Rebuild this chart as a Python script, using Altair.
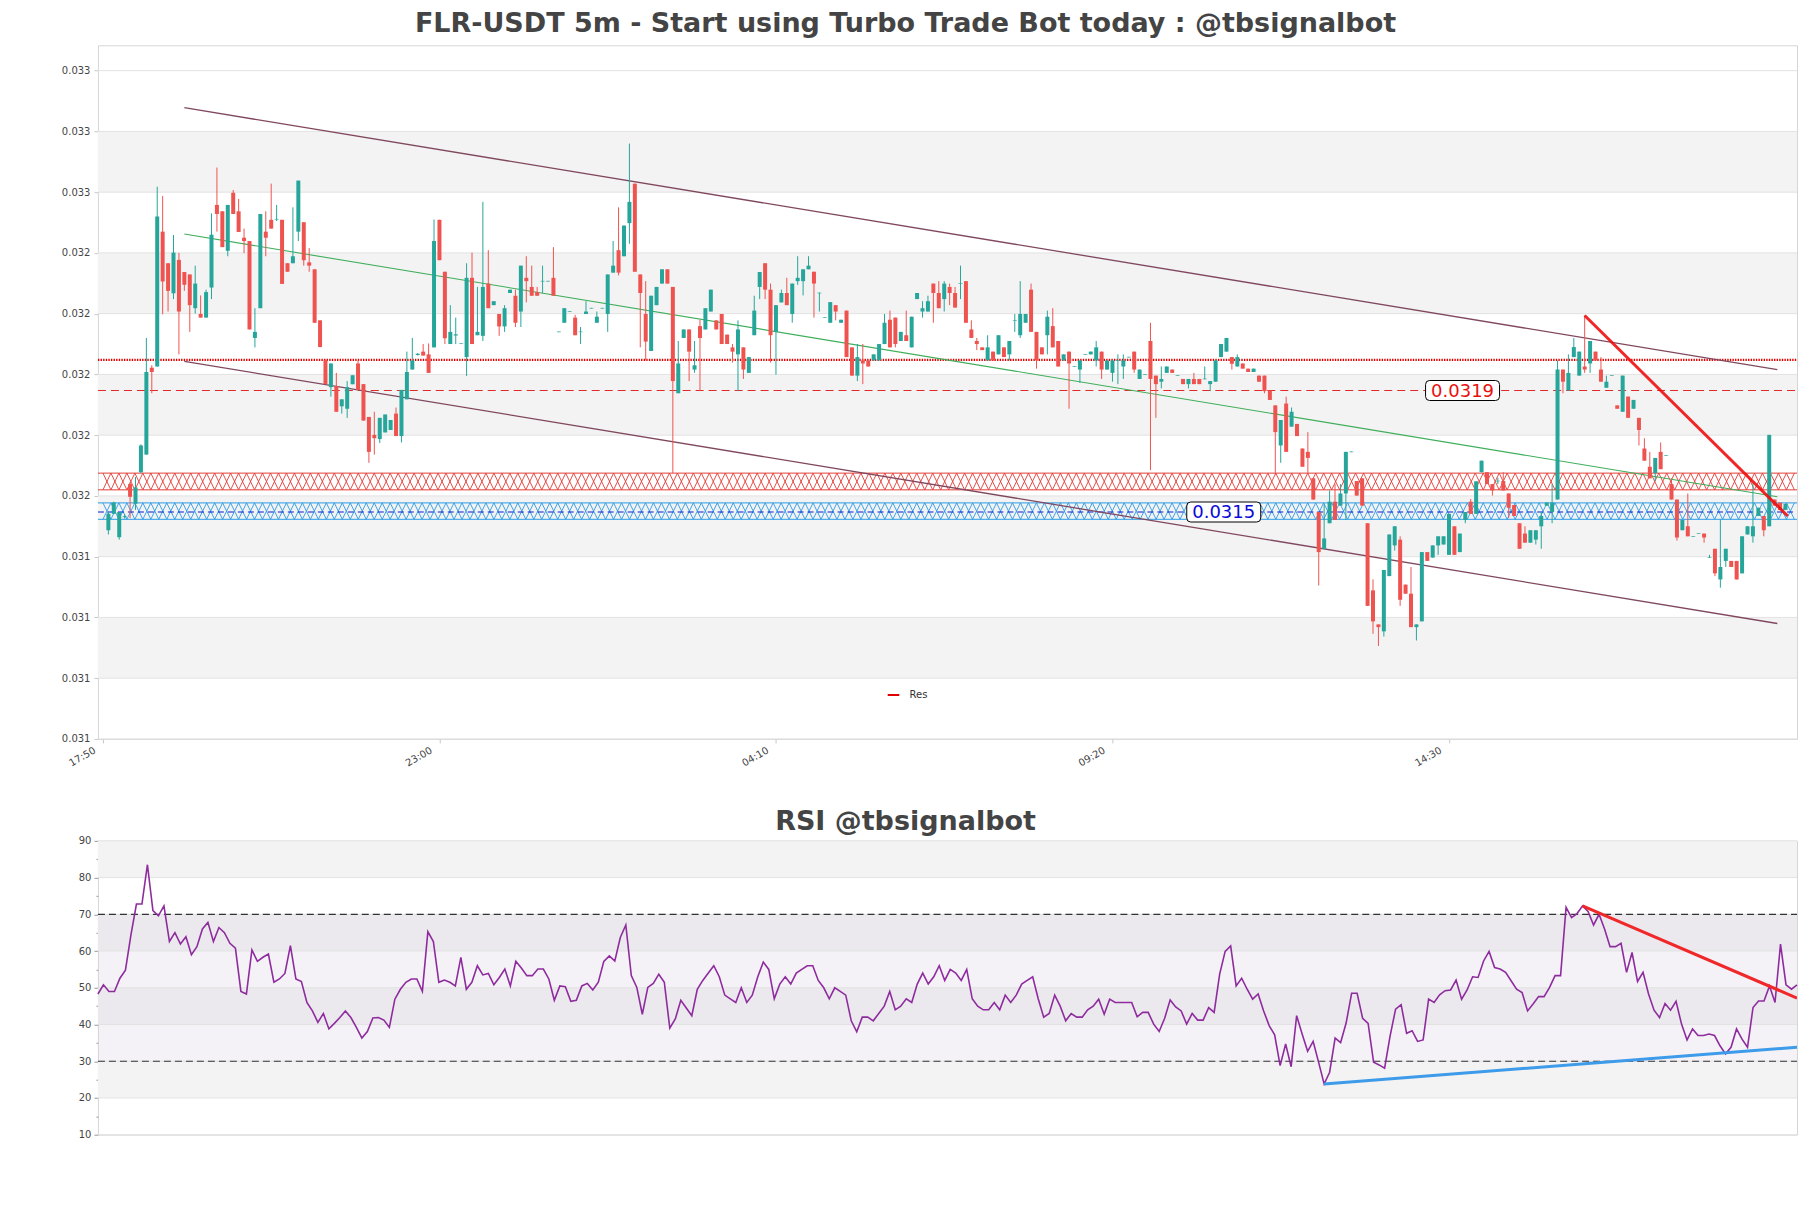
import json
import altair as alt
import numpy as np
import pandas as pd

FONT = "DejaVu Sans"
TITLE = "FLR-USDT 5m - Start using Turbo Trade Bot today : @tbsignalbot"
RSI_TITLE = "RSI @tbsignalbot"

# ---------------- candle data (prices in units of 1e-5 USDT) ----------------
PRICE_UNIT = 1e-5
opens = [
 3148.7,3154.1,3146.4,3153.0,3163.9,3157.4,3167.8,3173.6,3202.2,3202.6,
 3247.0,3236.6,3226.7,3237.7,3233.7,3232.9,3221.8,3219.9,3218.7,3228.6,
 3255.8,3253.7,3240.7,3259.8,3253.7,3245.0,3243.9,3212.0,3221.8,3247.0,
 3250.9,3251.0,3250.9,3236.6,3236.6,3247.0,3250.1,3236.9,3234.6,3217.8,
 3204.8,3195.8,3196.2,3189.5,3188.7,3196.8,3203.6,3196.8,3186.0,3180.1,
 3178.7,3180.9,3181.7,3187.1,3179.7,3191.8,3201.6,3206.4,3207.5,3206.6,
 3208.9,3250.9,3233.8,3210.0,3212.8,3210.0,3205.7,3231.8,3212.9,3212.7,
 3229.9,3222.8,3219.9,3215.8,3226.8,3225.9,3220.7,3231.8,3228.8,3227.1,
 3230.6,3230.6,3231.8,3213.9,3217.0,3220.6,3218.7,3213.9,3219.9,3221.7,
 3217.0,3221.7,3219.9,3233.5,3240.9,3238.9,3249.8,3262.8,3232.9,3219.9,
 3207.7,3222.8,3229.9,3234.6,3228.8,3193.8,3212.0,3214.8,3201.6,3215.9,
 3214.8,3220.7,3217.8,3219.9,3213.1,3208.9,3206.6,3208.9,3200.5,3212.9,
 3228.8,3236.6,3227.9,3214.0,3223.7,3226.8,3219.9,3230.7,3230.7,3234.6,
 3233.8,3226.7,3218.6,3217.0,3222.8,3217.0,3221.0,3208.9,3199.6,3204.6,
 3204.6,3204.6,3204.6,3210.0,3218.0,3218.7,3211.0,3212.9,3208.9,3224.8,
 3220.7,3220.7,3229.9,3226.8,3224.8,3228.8,3226.8,3229.8,3230.7,3214.8,
 3211.0,3208.9,3204.6,3207.5,3206.6,3208.9,3206.6,3217.7,3212.9,3217.0,
 3227.9,3214.0,3208.9,3212.9,3215.9,3211.0,3204.6,3207.5,3202.5,3201.6,
 3206.5,3206.6,3204.6,3207.5,3201.6,3200.5,3204.5,3202.6,3205.6,3207.5,
 3198.5,3199.9,3211.0,3199.6,3197.6,3200.5,3201.6,3199.5,3198.5,3196.8,
 3198.5,3198.5,3198.4,3196.8,3197.6,3205.7,3207.5,3205.7,3202.6,3203.6,
 3201.9,3200.8,3199.6,3199.6,3194.7,3189.8,3176.6,3190.4,3182.8,3183.7,
 3175.6,3174.5,3165.8,3154.7,3142.6,3151.0,3158.1,3156.8,3160.8,3174.4,
 3164.9,3165.8,3151.0,3128.9,3117.7,3115.4,3133.6,3143.7,3145.6,3130.8,
 3127.8,3116.8,3118.7,3141.5,3139.7,3143.7,3144.0,3140.6,3150.0,3141.5,
 3152.1,3158.1,3154.1,3167.8,3167.8,3163.9,3164.8,3164.9,3160.8,3157.0,
 3151.0,3147.6,3144.6,3145.6,3150.0,3156.8,3154.7,3158.8,3201.6,3194.7,
 3205.7,3199.6,3202.6,3203.6,3207.5,3201.6,3195.6,3199.5,3189.8,3187.7,
 3192.7,3188.7,3185.7,3175.6,3169.6,3167.5,3174.5,3173.2,3163.9,3158.8,
 3148.7,3150.0,3146.6,3147.5,3147.6,3139.6,3142.6,3132.5,3138.6,3138.6,
 3138.6,3134.5,3147.3,3146.7,3153.4,3153.4,3150.0,3158.8,3157.8,3155.4,
]
closes = [
 3154.1,3157.8,3154.7,3153.3,3159.7,3162.8,3176.6,3200.8,3200.8,3252.0,
 3230.6,3227.5,3240.1,3220.7,3229.5,3222.8,3229.9,3218.7,3227.1,3246.0,
 3252.8,3241.9,3255.8,3252.8,3246.9,3243.9,3214.8,3214.0,3252.8,3245.0,
 3248.0,3251.2,3229.8,3233.8,3238.9,3263.8,3237.6,3235.8,3217.0,3209.0,
 3196.8,3203.6,3187.7,3191.8,3195.8,3199.7,3194.9,3184.8,3174.5,3179.0,
 3185.7,3186.8,3185.0,3179.7,3194.9,3200.8,3204.6,3206.8,3206.2,3200.5,
 3243.9,3237.6,3211.9,3214.0,3213.2,3210.2,3231.8,3210.0,3214.0,3228.8,
 3221.8,3224.1,3215.8,3221.8,3227.9,3217.0,3235.8,3230.7,3225.9,3225.9,
 3230.8,3230.8,3225.9,3214.1,3221.8,3220.8,3212.9,3214.1,3220.7,3221.9,
 3219.0,3221.9,3232.9,3235.8,3233.5,3249.0,3256.8,3233.8,3226.8,3210.8,
 3225.9,3228.8,3234.6,3229.9,3197.8,3203.6,3214.8,3207.5,3203.0,3212.0,
 3221.8,3227.9,3214.8,3210.0,3210.0,3207.5,3214.8,3201.6,3205.7,3221.0,
 3233.7,3227.9,3212.9,3222.8,3226.8,3222.8,3229.9,3231.8,3234.6,3235.8,
 3229.9,3226.9,3218.8,3223.8,3220.7,3218.0,3205.7,3199.6,3205.7,3203.6,
 3202.6,3206.6,3210.0,3217.0,3208.9,3210.0,3214.0,3211.0,3219.0,3226.8,
 3221.8,3224.1,3226.8,3221.8,3229.9,3226.8,3222.0,3230.0,3217.0,3212.0,
 3210.0,3208.0,3208.9,3204.6,3212.9,3205.7,3211.0,3217.9,3219.9,3219.9,
 3214.0,3204.6,3206.6,3219.0,3208.9,3202.6,3206.6,3203.6,3202.7,3204.6,
 3206.7,3207.5,3208.9,3201.6,3204.6,3204.6,3204.7,3204.6,3205.8,3201.6,
 3201.6,3200.1,3198.5,3196.8,3198.5,3202.6,3200.5,3199.7,3196.8,3198.5,
 3196.8,3196.8,3198.6,3197.8,3204.6,3210.0,3212.0,3203.5,3205.7,3201.9,
 3200.8,3201.9,3197.6,3194.5,3191.6,3181.0,3185.0,3174.5,3187.7,3179.7,
 3169.6,3172.5,3158.8,3141.5,3146.0,3158.1,3152.1,3160.8,3174.5,3174.6,
 3160.1,3156.8,3123.8,3118.7,3116.8,3135.6,3147.3,3150.0,3125.8,3127.8,
 3116.8,3117.7,3141.5,3138.6,3143.7,3146.7,3146.7,3154.1,3140.6,3147.6,
 3154.7,3154.1,3164.8,3171.6,3163.9,3161.8,3165.0,3161.8,3156.1,3153.4,
 3142.6,3144.6,3148.7,3148.7,3153.4,3157.8,3157.8,3201.6,3197.6,3200.5,
 3209.0,3207.5,3201.6,3211.0,3204.6,3197.6,3197.6,3199.7,3188.7,3199.6,
 3185.7,3191.6,3181.7,3171.6,3165.8,3172.5,3168.8,3173.4,3158.8,3146.3,
 3152.1,3146.7,3146.8,3147.7,3146.3,3139.8,3134.5,3136.6,3142.6,3136.6,
 3132.5,3146.7,3150.0,3150.0,3156.1,3148.7,3180.1,3156.8,3155.4,3157.4,
]
highs = [
 3154.8,3158.1,3154.7,3154.0,3164.5,3166.2,3177.0,3212.0,3203.0,3261.8,
 3258.7,3236.6,3245.9,3240.0,3233.7,3232.9,3235.8,3226.0,3227.9,3253.0,
 3268.1,3253.7,3255.8,3260.7,3257.8,3248.0,3243.9,3221.8,3252.8,3253.7,
 3262.8,3255.8,3250.9,3236.6,3255.0,3263.8,3250.1,3241.6,3234.6,3217.8,
 3204.8,3203.6,3200.5,3191.8,3197.8,3199.7,3204.6,3196.8,3186.0,3187.7,
 3185.7,3186.8,3185.0,3189.1,3194.9,3207.5,3212.0,3207.0,3210.0,3210.2,
 3251.0,3250.9,3233.8,3222.8,3218.7,3210.2,3236.6,3240.1,3228.8,3256.8,
 3240.9,3224.1,3219.9,3222.8,3227.9,3227.9,3235.8,3238.9,3235.8,3228.8,
 3235.8,3230.8,3241.9,3214.1,3221.8,3220.8,3219.6,3215.6,3224.1,3221.9,
 3220.7,3221.9,3232.9,3243.9,3255.0,3249.0,3276.0,3262.8,3232.9,3230.7,
 3225.9,3228.8,3234.6,3234.6,3228.8,3211.0,3214.8,3214.8,3211.0,3218.0,
 3221.8,3227.9,3217.8,3219.9,3213.1,3210.0,3217.8,3208.9,3205.7,3225.9,
 3233.7,3236.6,3229.9,3222.8,3227.9,3231.8,3229.9,3238.9,3234.6,3238.9,
 3233.8,3226.9,3218.8,3223.8,3222.8,3218.0,3221.0,3208.9,3210.0,3210.0,
 3204.6,3206.6,3210.0,3219.9,3221.0,3218.7,3214.0,3221.0,3219.0,3226.8,
 3224.1,3225.9,3229.9,3230.7,3230.7,3229.9,3228.8,3235.8,3230.7,3217.8,
 3212.0,3208.9,3212.9,3207.5,3212.9,3208.9,3211.0,3219.9,3230.7,3219.9,
 3229.9,3214.0,3208.9,3221.0,3221.8,3211.0,3206.6,3207.5,3202.7,3204.6,
 3206.7,3207.5,3211.0,3207.5,3204.6,3204.6,3206.6,3206.6,3205.8,3207.5,
 3201.6,3200.1,3217.0,3199.6,3202.6,3202.6,3201.6,3199.7,3198.5,3198.5,
 3200.5,3198.5,3202.6,3197.8,3204.6,3210.0,3212.0,3205.7,3206.6,3203.6,
 3201.9,3201.9,3199.6,3199.6,3194.7,3189.8,3185.0,3192.7,3189.1,3183.7,
 3175.6,3181.0,3165.8,3154.7,3157.4,3161.8,3163.9,3163.9,3174.5,3174.6,
 3164.9,3165.8,3151.0,3132.5,3117.7,3135.6,3147.3,3150.0,3146.7,3130.8,
 3136.6,3117.7,3141.5,3141.5,3143.7,3146.7,3146.7,3154.1,3150.0,3147.6,
 3154.7,3159.0,3164.8,3171.6,3167.8,3163.9,3166.0,3167.8,3160.8,3157.0,
 3151.0,3150.0,3148.7,3148.7,3154.7,3157.8,3163.9,3204.6,3201.6,3206.6,
 3212.0,3207.5,3219.4,3211.0,3207.5,3205.7,3199.6,3199.7,3189.8,3199.6,
 3192.7,3191.6,3185.7,3179.0,3174.5,3172.5,3177.6,3173.4,3165.8,3158.8,
 3152.1,3160.8,3146.8,3147.7,3147.6,3140.6,3142.6,3152.3,3142.6,3138.6,
 3138.6,3146.7,3150.0,3164.2,3156.1,3153.4,3180.1,3158.8,3157.8,3157.4,
]
lows = [
 3147.3,3154.1,3145.6,3152.5,3152.7,3155.4,3167.5,3173.6,3193.8,3202.6,
 3219.8,3220.7,3224.8,3206.6,3227.5,3214.0,3220.0,3218.7,3218.7,3224.8,
 3247.0,3241.9,3238.9,3252.8,3246.9,3239.9,3214.8,3208.9,3221.8,3238.9,
 3248.0,3250.5,3229.8,3233.8,3236.6,3243.9,3235.8,3233.8,3217.0,3209.0,
 3196.8,3192.7,3187.7,3187.1,3185.7,3196.8,3194.9,3184.8,3170.9,3173.6,
 3177.4,3180.9,3181.7,3179.7,3177.6,3191.8,3201.6,3206.2,3206.2,3200.5,
 3208.9,3237.6,3210.0,3210.0,3210.0,3210.0,3199.5,3210.0,3212.9,3211.0,
 3221.8,3222.8,3212.7,3214.0,3226.8,3215.6,3215.6,3223.7,3225.9,3225.9,
 3226.8,3230.6,3225.9,3213.9,3217.0,3220.6,3212.9,3210.0,3219.9,3221.7,
 3217.0,3221.7,3214.0,3233.5,3232.6,3238.9,3243.0,3233.8,3208.9,3204.6,
 3207.7,3222.8,3229.9,3229.9,3167.5,3193.8,3212.0,3197.8,3200.5,3194.5,
 3214.8,3220.7,3214.8,3210.0,3210.0,3203.9,3194.5,3198.5,3200.5,3212.9,
 3224.8,3224.8,3203.9,3199.9,3223.7,3222.8,3217.0,3229.5,3226.0,3234.6,
 3218.7,3220.7,3218.6,3217.0,3217.8,3217.0,3205.7,3199.6,3197.8,3196.8,
 3202.6,3204.6,3204.6,3210.0,3208.9,3208.9,3211.0,3211.0,3208.9,3224.8,
 3218.7,3220.7,3217.0,3221.8,3220.7,3222.8,3222.0,3224.8,3217.0,3212.0,
 3208.0,3208.0,3204.6,3204.6,3206.6,3205.7,3204.6,3214.0,3212.0,3217.0,
 3214.0,3201.9,3206.6,3206.6,3208.9,3202.6,3204.6,3188.7,3202.5,3197.2,
 3206.5,3206.6,3202.6,3198.5,3201.6,3197.6,3196.8,3198.5,3205.6,3200.5,
 3198.5,3199.9,3168.5,3185.7,3195.4,3200.5,3200.5,3199.5,3196.8,3195.4,
 3196.8,3196.8,3198.4,3194.5,3197.6,3205.7,3207.5,3201.6,3202.6,3201.9,
 3200.8,3200.8,3197.6,3193.8,3191.6,3166.9,3170.9,3174.5,3182.8,3179.7,
 3169.6,3167.5,3158.8,3130.5,3142.6,3151.0,3152.1,3156.8,3152.1,3174.4,
 3160.1,3156.8,3123.8,3114.6,3110.6,3113.7,3133.6,3142.0,3123.8,3127.8,
 3116.8,3112.4,3118.7,3138.6,3139.7,3140.6,3144.0,3140.6,3140.6,3141.5,
 3151.0,3154.1,3154.1,3167.8,3163.9,3160.1,3163.9,3161.8,3152.7,3153.4,
 3142.6,3144.6,3144.6,3144.0,3142.6,3156.8,3151.0,3158.8,3193.8,3194.7,
 3205.7,3199.6,3200.5,3200.5,3204.6,3197.6,3195.6,3199.5,3188.7,3187.7,
 3185.7,3188.7,3176.6,3171.6,3165.8,3164.9,3168.8,3173.2,3158.8,3145.3,
 3148.7,3146.7,3146.6,3147.5,3144.6,3139.6,3133.6,3129.8,3136.6,3136.6,
 3132.5,3134.5,3147.3,3144.6,3153.4,3146.7,3150.0,3156.8,3155.4,3155.4,
]

# RSI values, one per candle (same order)
rsi = [
 48.3,50.8,49.0,49.0,52.6,54.8,64.4,72.8,72.8,83.5,
 71.0,69.6,72.3,62.6,65.0,61.9,63.9,59.0,61.2,66.0,
 67.8,62.6,66.4,65.0,62.1,60.8,49.0,48.3,60.3,57.2,
 58.3,59.2,51.5,52.4,53.9,61.5,52.4,51.7,46.0,43.7,
 40.6,43.0,38.8,40.3,41.9,43.7,41.9,39.2,36.3,38.1,
 41.8,41.9,41.2,39.2,46.9,49.6,51.5,52.4,52.4,49.0,
 65.3,62.6,51.5,52.1,51.5,50.5,58.3,49.6,51.5,56.0,
 53.5,53.9,50.8,52.8,55.1,50.5,57.2,55.4,53.3,53.3,
 55.1,55.1,52.4,46.6,50.5,50.3,46.3,46.6,50.5,51.2,
 49.4,51.5,57.2,58.7,57.3,63.7,67.1,53.3,50.1,42.8,
 50.1,51.2,53.7,51.5,39.0,41.5,46.6,44.5,42.4,49.6,
 52.0,54.0,56.0,53.0,48.0,47.0,46.0,50.0,46.0,48.0,
 53.0,57.0,55.0,47.0,51.0,53.0,51.0,54.0,55.0,56.0,
 56.0,52.0,50.0,47.0,50.0,49.0,48.0,41.0,38.0,42.0,
 42.0,41.0,43.0,45.0,49.0,44.0,45.0,47.0,46.0,51.0,
 54.0,51.0,53.0,56.0,52.0,55.0,54.0,52.0,55.0,47.0,
 45.0,44.0,44.0,46.0,44.0,48.0,46.0,48.0,51.0,52.0,
 53.0,47.0,42.0,43.0,48.0,45.0,41.0,43.0,42.0,42.0,
 44.0,45.0,46.9,42.8,46.9,46.0,46.0,46.0,46.0,42.1,
 43.3,43.3,40.1,38.1,41.7,46.7,44.8,43.7,40.1,43.0,
 41.2,41.2,44.6,43.3,53.7,59.9,61.4,50.5,52.6,49.6,
 46.9,48.3,43.7,39.7,37.2,28.8,34.7,28.5,42.4,37.4,
 32.7,35.4,29.7,23.8,27.0,36.3,35.1,40.4,48.5,48.5,
 41.7,40.3,29.7,29.0,28.1,36.9,44.2,45.4,37.6,38.3,
 35.4,35.8,46.9,46.0,48.1,49.2,49.4,52.1,46.9,49.4,
 53.0,52.8,57.3,59.9,55.5,55.1,54.2,51.9,49.6,48.7,
 43.7,45.6,47.6,47.6,50.1,53.3,53.3,71.9,69.1,70.2,
 72.3,70.8,67.1,70.0,66.0,61.2,61.2,62.1,54.2,59.6,
 51.7,54.2,48.3,43.9,41.9,45.7,43.9,46.3,40.1,35.8,
 38.8,37.0,37.0,37.4,37.0,34.2,32.0,33.8,38.8,36.0,
 33.8,44.6,46.4,46.4,50.5,46.0,61.9,50.8,49.6,50.8,
]

# x positions: candle number counted in 5-minute steps from the 17:50 tick
candle_idx = list(range(1, len(closes) + 1))
tick_idx = [0, 62, 124, 186, 248]
tick_labels = ["17:50", "23:00", "04:10", "09:20", "14:30"]
x_domain_main = [0, 311.2]
x_domain_rsi = [1, 310]

# price axis
y_ticks = [0.0308, 0.0310, 0.0312, 0.0314, 0.0316, 0.0318, 0.0320,
           0.0322, 0.0324, 0.0326, 0.0328, 0.0330]
y_domain = [0.0308, 0.0330835]
shade_lo = [0.0310, 0.0314, 0.0318, 0.0322, 0.0326]
shade_hi = [0.0312, 0.0316, 0.0320, 0.0324, 0.0328]

# levels and zones
res_dotted = 0.032048
res_dashed = 0.031947
sup_dashed = 0.031547
res_zone = (0.031620, 0.031675)
sup_zone = (0.031523, 0.031577)

# channel and trend lines (candle number, price)
chan_x = [15, 308.5]
chan_upper = [0.032878, 0.032016]
chan_lower = [0.032043, 0.031180]
chan_mid = [0.032462, 0.031597]
trend_x = [273, 310.4]
trend_y = [0.032194, 0.031534]

# level labels
lab_x = [250.5, 206.5]
lab_y = [0.031947, 0.031547]
lab_text = ["0.0319", "0.0315"]
lab_color = ["#e8110f", "#0a0ad8"]

# RSI panel
rsi_shade_lo = [80, 60, 40, 20]
rsi_shade_hi = [90, 70, 50, 30]
rsi_grid = [10, 20, 30, 40, 50, 60, 70, 80, 90]
rsi_levels = [30, 70]
rsi_red_x = [271, 310]
rsi_red_v = [72.3, 47.2]
rsi_blue_x = [224, 310]
rsi_blue_v = [23.8, 33.8]

# ---------------- styling ----------------
UP, DOWN = "#26a69a", "#ef5350"
CHAN = "#80485f"
GREEN_LINE = "#3fae5a"
HATCH_RED = "#e23b35"
HATCH_BLUE = "#2a9be6"
SHADE = "#f3f3f3"
GRID = "#e2e2e2"
W1, H1 = 1700, 694
W2, H2 = 1700, 294
TITLE_SIZE = 27

df = pd.DataFrame({
    "i": candle_idx,
    "open": np.array(opens) * PRICE_UNIT,
    "close": np.array(closes) * PRICE_UNIT,
    "high": np.array(highs) * PRICE_UNIT,
    "low": np.array(lows) * PRICE_UNIT,
    "rsi": rsi,
})

label_expr = "%s[indexof(%s, datum.value)]" % (json.dumps(tick_labels), json.dumps(tick_idx))
xscale = alt.Scale(domain=x_domain_main, nice=False, zero=False)
yscale = alt.Scale(domain=y_domain, nice=False, zero=False)
x_axis = alt.Axis(values=tick_idx, labelExpr=label_expr, labelAngle=-30, labelAlign="right",
                  labelBaseline="top", labelOffset=-11, grid=False, domain=False, tickColor="#c8c8c8",
                  tickSize=4, labelFontSize=10, labelColor="#444", labelFont=FONT, labelPadding=2,
                  minExtent=30, maxExtent=30, title=None)
y_axis = alt.Axis(values=y_ticks, format=".3f", grid=False, domain=False, tickColor="#c8c8c8",
                  tickSize=4, labelFontSize=10, labelColor="#444", labelFont=FONT, labelPadding=4,
                  minExtent=40, maxExtent=40, title=None)


def X(field):
    return alt.X(field, type="quantitative", scale=xscale, axis=x_axis)


def Y(field):
    return alt.Y(field, type="quantitative", scale=yscale, axis=y_axis)


shade = alt.Chart(pd.DataFrame({"lo": shade_lo, "hi": shade_hi})).mark_rect(color=SHADE).encode(
    x=alt.value(0), x2=alt.value(W1), y=Y("lo"), y2="hi")
grid = alt.Chart(pd.DataFrame({"v": y_ticks})).mark_rule(color=GRID, strokeWidth=1).encode(
    y=Y("v"), x=alt.value(0), x2=alt.value(W1))

# hatched zones (cross-hatch drawn as two opposite zig-zags between zone edges)
HATCH_HALF = 1.47
hx = np.arange(x_domain_main[0], x_domain_main[1] + HATCH_HALF, HATCH_HALF)


def hatch_layers(zone, color):
    lo, hi = zone
    rows = []
    for phase in (0, 1):
        for j, xv in enumerate(hx):
            rows.append({"x": xv, "y": hi if (j + phase) % 2 == 0 else lo, "line": phase, "ord": j})
    zig = alt.Chart(pd.DataFrame(rows)).mark_line(color=color, strokeWidth=0.9, clip=True).encode(
        x=X("x"), y=Y("y"), detail="line:N", order="ord:Q")
    edges = alt.Chart(pd.DataFrame({"v": [lo, hi]})).mark_rule(color=color, strokeWidth=1).encode(
        y=Y("v"), x=alt.value(0), x2=alt.value(W1))
    return [zig, edges]


res_df = pd.DataFrame({"v": [res_dotted], "name": ["Res"]})
res_line = alt.Chart(res_df).mark_rule(strokeWidth=2.2, strokeDash=[1.4, 1.2]).encode(
    y=Y("v"), x=alt.value(0), x2=alt.value(W1),
    color=alt.Color("name:N", scale=alt.Scale(domain=["Res"], range=["#e00000"]),
                    legend=alt.Legend(title=None, orient="none", legendX=789, legendY=643,
                                      symbolType="stroke", symbolSize=135, symbolStrokeWidth=2,
                                      symbolDash=[10, 0], labelFontSize=10, labelFont=FONT,
                                      labelColor="#333", padding=0, labelOffset=9)))
res_dash = alt.Chart(pd.DataFrame({"v": [res_dashed]})).mark_rule(
    color="#e02a2a", strokeWidth=1.2, strokeDash=[8, 5]).encode(y=Y("v"), x=alt.value(0), x2=alt.value(W1))
sup_dash = alt.Chart(pd.DataFrame({"v": [sup_dashed]})).mark_rule(
    color="#0b1fd0", strokeWidth=1.2, strokeDash=[6, 4]).encode(y=Y("v"), x=alt.value(0), x2=alt.value(W1))


def seg(xs, ys, color, width, opacity=1.0):
    return alt.Chart(pd.DataFrame({"x": xs, "y": ys})).mark_line(
        color=color, strokeWidth=width, opacity=opacity, clip=True).encode(x=X("x"), y=Y("y"))


chan1 = seg(chan_x, chan_upper, CHAN, 1.3)
chan2 = seg(chan_x, chan_lower, CHAN, 1.3)
chan3 = seg(chan_x, chan_mid, GREEN_LINE, 1.1)
trend = seg(trend_x, trend_y, "#ee1010", 3, 0.9)

candle_color = alt.condition("datum.close >= datum.open", alt.value(UP), alt.value(DOWN))
wicks = alt.Chart(df).mark_rule(strokeWidth=1).encode(x=X("i"), y=Y("low"), y2="high", color=candle_color)
bodies = alt.Chart(df).mark_bar(size=4).encode(x=X("i"), y=Y("open"), y2="close", color=candle_color)

BOX = ("M-33,-10 L33,-10 Q37,-10 37,-6 L37,6 Q37,10 33,10 L-33,10 Q-37,10 -37,6 "
       "L-37,-6 Q-37,-10 -33,-10 Z")
lab_df = pd.DataFrame({"x": lab_x, "y": lab_y, "text": lab_text, "c": lab_color})
boxes = alt.Chart(lab_df).mark_point(shape=BOX, size=4, filled=True, fill="white", stroke="black",
                                     strokeWidth=1, opacity=1, fillOpacity=1, strokeOpacity=1).encode(
    x=X("x"), y=Y("y"))
texts = alt.Chart(lab_df).mark_text(font=FONT, fontSize=18, align="center", baseline="middle", dy=1).encode(
    x=X("x"), y=Y("y"), text="text:N", color=alt.Color("c:N", scale=None))

layers = [shade, grid] + hatch_layers(res_zone, HATCH_RED) + hatch_layers(sup_zone, HATCH_BLUE) + \
    [res_line, res_dash, sup_dash, chan1, chan2, chan3, wicks, bodies, trend, boxes, texts]

main = alt.layer(*layers).properties(
    width=W1, height=H1,
    title=alt.TitleParams(TITLE, anchor="middle", frame="group", dx=-42, offset=7, fontSize=TITLE_SIZE,
                          font=FONT, fontWeight="bold", color="#444"))

# ---------------- RSI panel ----------------
rxscale = alt.Scale(domain=x_domain_rsi, nice=False, zero=False)
ryscale = alt.Scale(domain=[10, 90], nice=False, zero=False)
ry_axis = alt.Axis(values=list(range(10, 95, 5)),
                   labelExpr="datum.value % 10 == 0 ? datum.label : ''",
                   tickSize={"condition": {"test": "datum.value % 10 == 0", "value": 4}, "value": 2},
                   grid=False, domain=False, tickColor="#999", labelFontSize=10, labelColor="#444",
                   labelFont=FONT, labelPadding=3, minExtent=40, maxExtent=40, title=None)


def RX(field):
    return alt.X(field, type="quantitative", scale=rxscale, axis=None)


def RY(field):
    return alt.Y(field, type="quantitative", scale=ryscale, axis=ry_axis)


r_shade = alt.Chart(pd.DataFrame({"lo": rsi_shade_lo, "hi": rsi_shade_hi})).mark_rect(color=SHADE).encode(
    x=alt.value(0), x2=alt.value(W2), y=RY("lo"), y2="hi")
r_hatch = alt.Chart(pd.DataFrame({"lo": [rsi_levels[0]], "hi": [rsi_levels[1]]})).mark_rect(
    color="#d8cfe2", opacity=0.28).encode(x=alt.value(0), x2=alt.value(W2), y=RY("lo"), y2="hi")
r_grid = alt.Chart(pd.DataFrame({"v": rsi_grid})).mark_rule(color=GRID, strokeWidth=1).encode(
    y=RY("v"), x=alt.value(0), x2=alt.value(W2))
r_levels = alt.Chart(pd.DataFrame({"v": rsi_levels})).mark_rule(
    color="#333", strokeWidth=1.2, strokeDash=[7, 4]).encode(y=RY("v"), x=alt.value(0), x2=alt.value(W2))
r_line = alt.Chart(df).mark_line(color="#8e2c9e", strokeWidth=1.6).encode(x=RX("i"), y=RY("rsi"))


def rseg(xs, ys, color):
    return alt.Chart(pd.DataFrame({"x": xs, "y": ys})).mark_line(color=color, strokeWidth=3, clip=True).encode(
        x=RX("x"), y=RY("y"))


r_red = rseg(rsi_red_x, rsi_red_v, "#f0282a")
r_blue = rseg(rsi_blue_x, rsi_blue_v, "#3d9be9")

rsi_chart = alt.layer(r_shade, r_hatch, r_grid, r_levels, r_line, r_red, r_blue).properties(
    width=W2, height=H2,
    title=alt.TitleParams(RSI_TITLE, anchor="middle", frame="group", dx=-42, offset=0, fontSize=TITLE_SIZE,
                          font=FONT, fontWeight="bold", color="#444"))

chart = alt.vconcat(main, rsi_chart, spacing=37).properties(
    padding={"left": 57, "top": 9, "right": 10, "bottom": 10}
).configure_view(stroke="#d6d6d6", strokeWidth=1).configure_axis(labelFont=FONT)

chart.save("out.html", embed_options={"renderer": "svg", "actions": False})
